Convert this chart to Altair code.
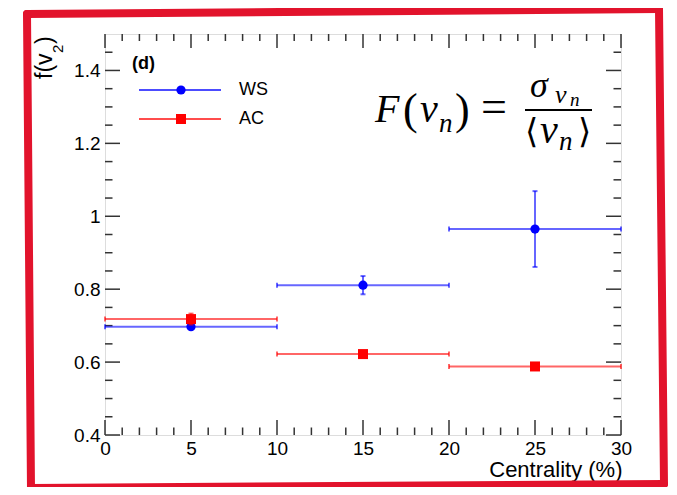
import altair as alt
import pandas as pd

# ---------------- data ----------------
centrality = [5, 15, 25]
bin_half = [5, 5, 5]
ws_val = [0.697, 0.811, 0.965]
ws_err = [0.006, 0.025, 0.104]
ac_val = [0.718, 0.622, 0.588]
ac_err = [0.015, 0.005, 0.005]

x_major = [0, 5, 10, 15, 20, 25, 30]
x_minor = [v for v in range(0, 31) if v % 5]
y_major = [0.4, 0.6, 0.8, 1.0, 1.2, 1.4]
y_minor = [round(0.4 + 0.05 * i, 2) for i in range(1, 22) if i % 4]

W, H = 516, 401
BLUE = "#0000ff"
RED = "#ff0000"
TICK = "#333333"
FRAME = "#e2132c"

xs = alt.Scale(domain=[0, 30], nice=False, zero=False)
ys = alt.Scale(domain=[0.4, 1.5], nice=False, zero=False)

xaxis = alt.Axis(values=x_major, format="d", labelFontSize=19, labelFont="Liberation Sans",
                 labelColor="black", labelPadding=4, ticks=False, domain=False, grid=False,
                 labelFlush=False, labelOverlap=False,
                 title="Centrality (%)", titleFont="Liberation Sans", titleFontSize=22,
                 titleFontWeight="normal", titleColor="black", titleAnchor="end",
                 titleAlign="right", titleX=W + 1, titleY=41, titleBaseline="alphabetic")
yaxis = alt.Axis(values=y_major, format="~g", labelFontSize=19, labelFont="Liberation Sans",
                 labelColor="black", labelPadding=5, ticks=False, domain=False, grid=False,
                 labelFlush=False, labelOverlap=False, title=None)


def X(f):
    return alt.X(f, type="quantitative", scale=xs, axis=xaxis)


def Y(f):
    return alt.Y(f, type="quantitative", scale=ys, axis=yaxis)


def series_df(vals, errs):
    return pd.DataFrame({
        "x": centrality,
        "xlo": [c - h for c, h in zip(centrality, bin_half)],
        "xhi": [c + h for c, h in zip(centrality, bin_half)],
        "y": vals,
        "ylo": [v - e for v, e in zip(vals, errs)],
        "yhi": [v + e for v, e in zip(vals, errs)],
    })


def series_layers(df, color, shape, size):
    base = alt.Chart(df)
    return [
        base.mark_rule(color=color, strokeWidth=2, opacity=0.6).encode(x=X("xlo"), x2="xhi", y=Y("y")),
        base.mark_rule(color=color, strokeWidth=2, opacity=0.6).encode(x=X("x"), y=Y("ylo"), y2="yhi"),
        base.mark_tick(color=color, orient="vertical", size=5, thickness=2, opacity=0.6).encode(x=X("xlo"), y=Y("y")),
        base.mark_tick(color=color, orient="vertical", size=5, thickness=2, opacity=0.6).encode(x=X("xhi"), y=Y("y")),
        base.mark_tick(color=color, orient="horizontal", size=5, thickness=2, opacity=0.6).encode(x=X("x"), y=Y("ylo")),
        base.mark_tick(color=color, orient="horizontal", size=5, thickness=2, opacity=0.6).encode(x=X("x"), y=Y("yhi")),
        base.mark_point(shape=shape, filled=True, size=size, color=color, opacity=1).encode(x=X("x"), y=Y("y")),
    ]


layers = []

# ---- inward ticks on all four sides ----
dxM = pd.DataFrame({"v": x_major})
dxm = pd.DataFrame({"v": x_minor})
dyM = pd.DataFrame({"v": y_major})
dym = pd.DataFrame({"v": y_minor})
tk = dict(color=TICK, strokeWidth=1.5)
layers += [
    alt.Chart(dxM).mark_rule(**tk).encode(x=X("v"), y=alt.value(H), y2=alt.value(H - 15)),
    alt.Chart(dxM).mark_rule(**tk).encode(x=X("v"), y=alt.value(0), y2=alt.value(14)),
    alt.Chart(dxm).mark_rule(**tk).encode(x=X("v"), y=alt.value(H), y2=alt.value(H - 7.5)),
    alt.Chart(dxm).mark_rule(**tk).encode(x=X("v"), y=alt.value(0), y2=alt.value(7)),
    alt.Chart(dyM).mark_rule(**tk).encode(y=Y("v"), x=alt.value(0), x2=alt.value(15)),
    alt.Chart(dyM).mark_rule(**tk).encode(y=Y("v"), x=alt.value(W), x2=alt.value(W - 15)),
    alt.Chart(dym).mark_rule(**tk).encode(y=Y("v"), x=alt.value(0), x2=alt.value(7.5)),
    alt.Chart(dym).mark_rule(**tk).encode(y=Y("v"), x=alt.value(W), x2=alt.value(W - 7.5)),
]

# ---- data series ----
layers += series_layers(series_df(ws_val, ws_err), BLUE, "circle", 85)
layers += series_layers(series_df(ac_val, ac_err), RED, "square", 100)

one = pd.DataFrame({"k": [0]})


def txt(s, x, y, size, font="Liberation Sans", style="normal", weight="normal",
        angle=0, align="left", baseline="alphabetic", color="black"):
    return alt.Chart(pd.DataFrame({"t": [s]})).mark_text(
        font=font, fontSize=size, fontStyle=style, fontWeight=weight, angle=angle,
        align=align, baseline=baseline, color=color
    ).encode(x=alt.value(x), y=alt.value(y), text="t:N")


# ---- legend ----
layers += [
    txt("(d)", 27, 35, 18, weight="bold"),
    alt.Chart(one).mark_rule(color=BLUE, strokeWidth=2, opacity=0.7).encode(
        x=alt.value(34), x2=alt.value(116), y=alt.value(56)),
    alt.Chart(one).mark_point(shape="circle", filled=True, size=85, color=BLUE, opacity=1).encode(
        x=alt.value(76), y=alt.value(56)),
    txt("WS", 134, 56, 18, baseline="middle"),
    alt.Chart(one).mark_rule(color=RED, strokeWidth=2, opacity=0.7).encode(
        x=alt.value(34), x2=alt.value(116), y=alt.value(85)),
    alt.Chart(one).mark_point(shape="square", filled=True, size=100, color=RED, opacity=1).encode(
        x=alt.value(76), y=alt.value(85)),
    txt("AC", 134, 85, 18, baseline="middle"),
]

# ---- formula F(v_n) = sigma_{v_n} / <v_n> ----
SER = "Liberation Serif"
layers += [
    txt("F", 270, 88, 40, font=SER, style="italic"),
    txt("(", 298, 90, 44, font=SER),
    txt("v", 315, 88, 40, font=SER, style="italic"),
    txt("n", 334, 98, 27, font=SER, style="italic"),
    txt(")", 350, 90, 44, font=SER),
    txt("=", 376, 88, 46, font=SER),
    alt.Chart(one).mark_rule(color="black", strokeWidth=2).encode(
        x=alt.value(420), x2=alt.value(487), y=alt.value(76)),
    txt("σ", 425, 63, 36, font=SER, style="italic"),
    txt("v", 450, 69, 26, font=SER, style="italic"),
    txt("n", 465, 72, 19, font=SER, style="italic"),
    txt("⟨", 420, 109, 34, font="DejaVu Serif"),
    txt("v", 435, 109, 40, font=SER, style="italic"),
    txt("n", 454, 116, 27, font=SER, style="italic"),
    txt("⟩", 473, 109, 34, font="DejaVu Serif"),
]

# ---- y title f(v_2), rotated ----
layers += [
    txt("f(v", -53, 45, 23, angle=270),
    txt("2", -42, 19, 15, angle=270),
    txt(")", -53, 10, 23, angle=270),
]

# ---- red outer frame (decoration) ----
fr = dict(color=FRAME, strokeWidth=8, strokeCap="round")
corners = [(-78, -20), (554, -25), (559, 450), (-74, 454)]
for i in range(4):
    (x1, y1), (x2, y2) = corners[i], corners[(i + 1) % 4]
    layers.append(alt.Chart(one).mark_rule(**fr).encode(
        x=alt.value(x1), y=alt.value(y1), x2=alt.value(x2), y2=alt.value(y2)))

chart = alt.layer(*layers).properties(
    width=W, height=H,
    padding={"left": 97, "top": 26, "right": 48, "bottom": 52},
    autosize="none",
).configure_view(stroke="black", strokeWidth=2).configure(background="white")

chart.save("out.html", embed_options={"renderer": "svg", "actions": False})
